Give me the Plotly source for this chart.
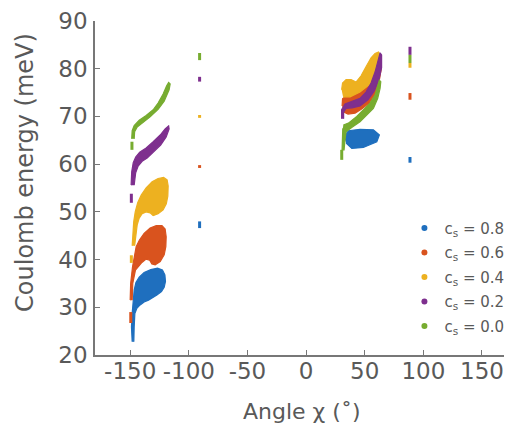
import plotly.graph_objects as go

# ---------------- data ----------------
labels = ["0.8", "0.6", "0.4", "0.2", "0.0"]
colors = ["#1f6fbe", "#d9531e", "#edb120", "#7e2f8e", "#77ac30"]

x_tickvals = [-150, -100, -50, 0, 50, 100, 150]
x_ticktext = ["-150", "-100", "-50", "0", "50", "100", "150"]
y_tickvals = [20, 30, 40, 50, 60, 70, 80, 90]

# left cluster outlines (angle chi in deg, Coulomb energy in meV)
left_chi_08 = [-148.3, -148.9, -148.3, -147.2, -146.6, -145.1, -142.3, -138.1, -132.4, -126.7, -122.5, -120.4,
               -119.9, -121.0, -123.3, -127.2, -131.0, -134.4, -138.1, -141.5, -144.3, -146.0, -146.6, -146.9]
left_e_08 = [22.8, 25.9, 28.7, 31.5, 33.6, 35.2, 36.3, 37.3, 37.9, 38.2, 37.8, 36.8,
             35.4, 34.2, 33.3, 32.6, 32.0, 31.5, 31.1, 30.5, 29.8, 28.7, 25.9, 22.8]

left_chi_06 = [-150.0, -149.6, -148.0, -146.3, -144.9, -142.1, -138.1, -133.0, -127.8, -122.9, -120.2, -119.3,
               -119.6, -121.0, -124.4, -128.7, -131.5, -133.5, -136.4, -140.0, -142.9, -145.5, -147.8, -148.3]
left_e_06 = [31.5, 35.0, 38.5, 41.0, 42.7, 44.1, 45.5, 46.6, 47.1, 47.1, 46.4, 44.8,
             42.7, 41.0, 39.6, 38.9, 39.1, 39.9, 40.1, 39.4, 38.5, 37.8, 35.0, 31.5]

left_chi_04 = [-148.3, -147.9, -147.0, -145.7, -143.6, -140.6, -136.4, -131.3, -126.2, -121.5, -118.5, -117.6,
               -117.9, -119.2, -121.9, -126.2, -130.4, -133.0, -136.4, -139.8, -142.3, -144.0, -145.3, -146.2]
left_e_04 = [42.9, 45.2, 47.9, 50.0, 51.9, 53.5, 55.0, 56.3, 57.0, 57.2, 56.7, 55.4,
             53.3, 51.7, 50.4, 49.6, 49.2, 49.8, 50.0, 49.6, 48.7, 47.3, 45.2, 42.9]

left_chi_02 = [-149.2, -148.7, -147.4, -145.3, -141.9, -136.4, -130.4, -124.4, -120.2, -117.2,
               -116.8, -119.3, -124.0, -130.0, -135.5, -139.8, -143.2, -145.3, -146.6]
left_e_02 = [55.6, 58.4, 60.3, 61.5, 62.5, 63.4, 64.7, 66.1, 67.4, 68.0,
             67.4, 65.7, 64.0, 62.6, 61.3, 60.6, 59.6, 58.2, 55.6]

left_chi_00 = [-148.7, -148.3, -146.6, -142.3, -136.4, -130.4, -126.2, -121.9, -118.9, -117.2,
               -115.9, -116.8, -121.0, -126.2, -133.0, -139.8, -144.0, -146.2, -146.6]
left_e_00 = [65.3, 67.0, 68.1, 69.2, 70.2, 71.4, 72.8, 74.7, 76.4, 77.1,
             76.8, 75.6, 73.2, 71.5, 69.9, 68.7, 67.8, 66.8, 65.3]

# right cluster outlines
right_chi_08 = [32.4, 36.1, 46.0, 57.4, 62.5, 60.3, 48.8, 39.0, 34.1]
right_e_08 = [65.8, 67.0, 67.3, 67.2, 66.1, 64.7, 63.5, 63.3, 64.4]

right_chi_06 = [30.7, 31.1, 34.1, 39.2, 46.0, 52.8, 58.0, 61.8, 63.5, 63.9, 62.2, 58.8, 53.7, 47.7, 41.8, 35.8, 32.4]
right_e_06 = [72.2, 73.7, 74.3, 74.4, 75.1, 76.6, 78.5, 80.6, 81.4, 79.7, 77.2, 74.7, 72.8, 71.6, 70.7, 70.5, 70.9]

right_chi_04 = [30.3, 31.1, 34.1, 38.4, 42.6, 46.9, 51.1, 55.4, 58.8, 61.8, 63.5, 63.5, 60.5, 54.5, 46.0, 37.5, 31.5]
right_e_04 = [75.6, 77.0, 77.7, 77.7, 77.2, 78.5, 80.4, 82.3, 83.2, 83.5, 82.9, 80.8, 78.6, 76.8, 75.1, 74.1, 74.1]

right_chi_02 = [30.3, 30.3, 33.2, 39.2, 46.0, 51.1, 55.4, 58.8, 61.4, 63.1, 64.4, 64.4,
                62.2, 58.0, 52.8, 46.0, 39.2, 34.1, 32.0, 32.0]
right_e_02 = [69.5, 71.4, 72.6, 73.2, 73.8, 75.1, 77.0, 79.3, 81.8, 83.3, 82.9, 80.2,
              77.7, 75.3, 73.5, 72.2, 71.8, 71.7, 70.9, 69.5]

right_chi_00 = [31.8, 36.1, 43.2, 48.8, 54.5, 58.8, 61.6, 62.5, 63.7, 63.1, 61.1, 57.4, 51.7, 46.0,
                38.9, 34.1, 33.2, 32.4, 30.7, 30.9, 31.3]
right_e_00 = [68.2, 68.6, 70.0, 71.4, 72.8, 74.5, 76.6, 77.6, 77.3, 75.9, 73.8, 71.7, 70.3, 68.9,
              67.7, 66.8, 65.1, 63.0, 63.0, 65.8, 67.5]

# short vertical dashes: position in chi, energy low / high (one per series)
dash_left_chi = [-148.0, -149.5, -149.0, -149.0, -148.5]
dash_left_lo = [22.8, 26.7, 39.3, 51.9, 63.0]
dash_left_hi = [22.8, 29.0, 40.9, 53.8, 64.7]
dash_m90_chi = -90.8
dash_m90_lo = [46.6, 59.2, 69.7, 77.3, 81.8]
dash_m90_hi = [48.0, 59.8, 70.3, 78.3, 83.3]
dash_p90_chi = 88.6
dash_p90_lo = [60.3, 73.5, 80.2, 82.9, 81.2]
dash_p90_hi = [61.5, 74.9, 81.2, 84.6, 82.9]
dash_right_chi = [None, None, None, None, 30.4]
dash_right_lo = [None, None, None, None, 60.9]
dash_right_hi = [None, None, None, None, 63.0]

left_chi = [left_chi_08, left_chi_06, left_chi_04, left_chi_02, left_chi_00]
left_e = [left_e_08, left_e_06, left_e_04, left_e_02, left_e_00]
right_chi = [right_chi_08, right_chi_06, right_chi_04, right_chi_02, right_chi_00]
right_e = [right_e_08, right_e_06, right_e_04, right_e_02, right_e_00]

# ---------------- figure ----------------
fig = go.Figure()

for i, lab in enumerate(labels):
    c = colors[i]
    for xs, ys in ((left_chi[i], left_e[i]), (right_chi[i], right_e[i])):
        fig.add_trace(go.Scatter(x=xs, y=ys, mode="lines", fill="toself", fillcolor=c,
                                 line=dict(color=c, width=1.2), showlegend=False, hoverinfo="skip"))
    dx, dy = [], []
    segs = [(dash_m90_chi, dash_m90_lo[i], dash_m90_hi[i]),
            (dash_p90_chi, dash_p90_lo[i], dash_p90_hi[i])]
    if dash_left_hi[i] > dash_left_lo[i]:
        segs.append((dash_left_chi[i], dash_left_lo[i], dash_left_hi[i]))
    if dash_right_chi[i] is not None:
        segs.append((dash_right_chi[i], dash_right_lo[i], dash_right_hi[i]))
    for xc, lo, hi in segs:
        dx += [xc, xc, None]
        dy += [lo, hi, None]
    fig.add_trace(go.Scatter(x=dx, y=dy, mode="lines", line=dict(color=c, width=3),
                             showlegend=False, hoverinfo="skip"))

for i, lab in enumerate(labels):
    fig.add_trace(go.Scatter(x=[None], y=[None], mode="markers",
                             marker=dict(size=6, color=colors[i]),
                             legendgroup="g" + lab,
                             name="c<sub>s</sub> = " + lab))

font_family = "DejaVu Sans, sans-serif"
tick_color = "#595959"

# page body has an 8px margin: figure is 504x423 so the plot area lands at (95..512, 21..355)
fig.update_layout(
    width=504, height=423,
    margin=dict(l=87, r=0, t=13, b=76),
    paper_bgcolor="white", plot_bgcolor="white",
    font=dict(family=font_family, color=tick_color),
    showlegend=True,
    legend=dict(x=0.742, xanchor="left", y=0.429, yanchor="top",
                font=dict(size=15, color=tick_color), bgcolor="rgba(0,0,0,0)",
                itemwidth=30, tracegroupgap=2, traceorder="grouped"),
    xaxis=dict(range=[-180, 175.6], tickvals=x_tickvals, ticktext=x_ticktext,
               ticks="inside", ticklen=5, tickcolor="#777777", tickwidth=1.2,
               showline=True, linecolor="#777777", linewidth=1.5, ticklabelstandoff=-5,
               showgrid=False, zeroline=False, tickfont=dict(size=23, color=tick_color)),
    yaxis=dict(range=[20, 90], tickvals=y_tickvals,
               ticks="inside", ticklen=5, tickcolor="#777777", tickwidth=1.2,
               showline=True, linecolor="#777777", linewidth=1.5, ticklabelstandoff=1,
               showgrid=False, zeroline=False, tickfont=dict(size=23, color=tick_color)),
    annotations=[
        dict(text="Angle χ (˚)", xref="paper", yref="paper", x=0.496, y=-0.168,
             xanchor="center", yanchor="middle", showarrow=False,
             font=dict(size=22, color=tick_color)),
        dict(text="Coulomb energy (meV)", xref="paper", yref="paper", x=-0.168, y=0.548,
             xanchor="center", yanchor="middle", textangle=-90, showarrow=False,
             font=dict(size=24, color=tick_color)),
    ],
)

fig.write_html("out.html")
